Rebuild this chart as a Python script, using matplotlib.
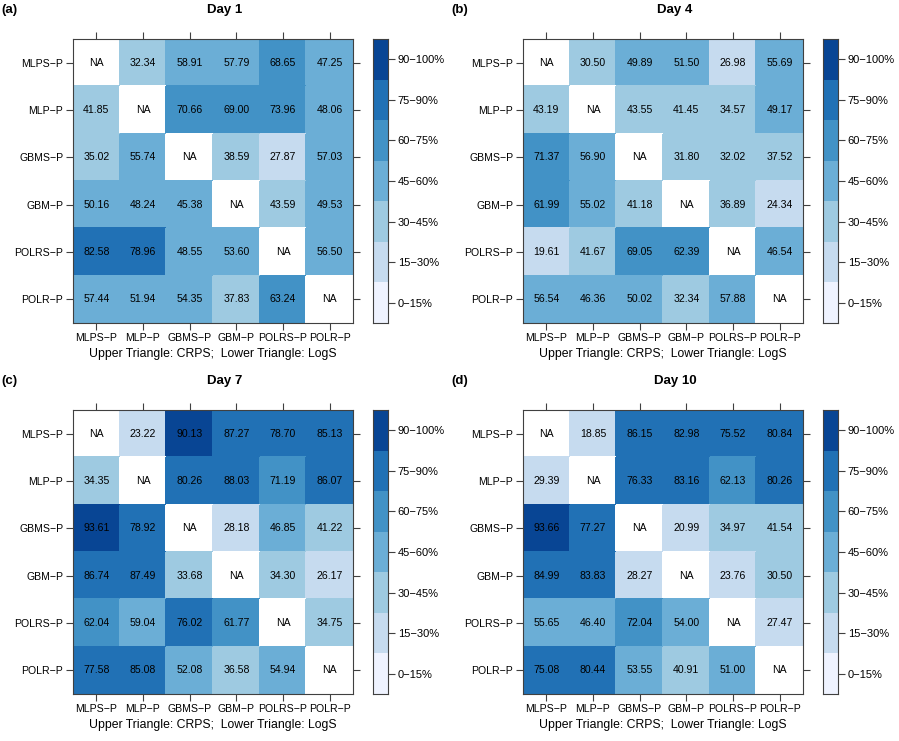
import numpy as np
import matplotlib
matplotlib.use("Agg")
import matplotlib.pyplot as plt
from matplotlib.colors import ListedColormap, BoundaryNorm

plt.rcParams['font.family'] = ['Liberation Sans', 'DejaVu Sans']

models = ["MLPS−P", "MLP−P", "GBMS−P", "GBM−P", "POLRS−P", "POLR−P"]
NA = np.nan

day1 = [[NA, 32.34, 58.91, 57.79, 68.65, 47.25],
        [41.85, NA, 70.66, 69.00, 73.96, 48.06],
        [35.02, 55.74, NA, 38.59, 27.87, 57.03],
        [50.16, 48.24, 45.38, NA, 43.59, 49.53],
        [82.58, 78.96, 48.55, 53.60, NA, 56.50],
        [57.44, 51.94, 54.35, 37.83, 63.24, NA]]

day4 = [[NA, 30.50, 49.89, 51.50, 26.98, 55.69],
        [43.19, NA, 43.55, 41.45, 34.57, 49.17],
        [71.37, 56.90, NA, 31.80, 32.02, 37.52],
        [61.99, 55.02, 41.18, NA, 36.89, 24.34],
        [19.61, 41.67, 69.05, 62.39, NA, 46.54],
        [56.54, 46.36, 50.02, 32.34, 57.88, NA]]

day7 = [[NA, 23.22, 90.13, 87.27, 78.70, 85.13],
        [34.35, NA, 80.26, 88.03, 71.19, 86.07],
        [93.61, 78.92, NA, 28.18, 46.85, 41.22],
        [86.74, 87.49, 33.68, NA, 34.30, 26.17],
        [62.04, 59.04, 76.02, 61.77, NA, 34.75],
        [77.58, 85.08, 52.08, 36.58, 54.94, NA]]

day10 = [[NA, 18.85, 86.15, 82.98, 75.52, 80.84],
         [29.39, NA, 76.33, 83.16, 62.13, 80.26],
         [93.66, 77.27, NA, 20.99, 34.97, 41.54],
         [84.99, 83.83, 28.27, NA, 23.76, 30.50],
         [55.65, 46.40, 72.04, 54.00, NA, 27.47],
         [75.08, 80.44, 53.55, 40.91, 51.00, NA]]

panels = ["(a)", "(b)", "(c)", "(d)"]
titles = ["Day 1", "Day 4", "Day 7", "Day 10"]
data = [day1, day4, day7, day10]
xlabel_text = "Upper Triangle: CRPS;  Lower Triangle: LogS"

bounds = [0, 15, 30, 45, 60, 75, 90, 100]
class_labels = ["0−15%", "15−30%", "30−45%", "45−60%", "60−75%", "75−90%", "90−100%"]
colors = ["#EFF3FF", "#C6DBEF", "#9ECAE1", "#6BAED6", "#4292C6", "#2171B5", "#084594"]

cmap = ListedColormap(colors)
cmap.set_bad("white")
norm = BoundaryNorm(bounds, cmap.N)

W, H = 899, 741
fig = plt.figure(figsize=(W / 100, H / 100), dpi=100)

frame_col = "#404040"
fs = 7.6

def fx(px):
    return px / W

def fy(py):
    return 1 - py / H

offsets = [(0, 0), (450, 0), (0, 371), (450, 371)]

for k in range(4):
    ox, oy = offsets[k]
    M = np.array(data[k], dtype=float)
    # main panel
    l, r, t, b = 73 + ox, 353 + ox, 39 + oy, 323 + oy
    ax = fig.add_axes([fx(l), fy(b), fx(r - l), (b - t) / H])
    ax.pcolormesh(np.arange(7) - 0.5, np.arange(7) - 0.5, np.ma.masked_invalid(M),
                  cmap=cmap, norm=norm, edgecolors="face", linewidth=0.2)
    ax.set_xlim(-0.5, 5.5)
    ax.set_ylim(5.5, -0.5)
    n = len(models)
    for i in range(n):
        for j in range(n):
            v = M[i, j]
            s = "NA" if np.isnan(v) else f"{v:.2f}"
            ax.text(j, i, s, ha="center", va="center", fontsize=fs, color="black")
    ax.set_xticks(range(n))
    ax.set_yticks(range(n))
    ax.set_xticklabels(models, fontsize=fs)
    ax.set_yticklabels(models, fontsize=fs)
    ax.tick_params(direction="out", length=5, width=0.8, color=frame_col,
                   top=True, right=True, labeltop=False, labelright=False, pad=2)
    for sp in ax.spines.values():
        sp.set_color(frame_col)
        sp.set_linewidth(0.8)
    ax.set_xlabel(xlabel_text, fontsize=8.8, labelpad=4)

    # colorbar
    cl, cr = 373 + ox, 388 + ox
    cax = fig.add_axes([fx(cl), fy(b), fx(cr - cl), (b - t) / H])
    lev = np.arange(len(colors)).reshape(-1, 1)
    cax.pcolormesh([0, 1], np.arange(len(colors) + 1), lev, cmap=ListedColormap(colors),
                   vmin=-0.5, vmax=len(colors) - 0.5)
    cax.set_xlim(0, 1)
    cax.set_ylim(0, len(colors))
    cax.set_xticks([])
    cax.set_yticks(np.arange(len(colors)) + 0.5)
    cax.set_yticklabels(class_labels, fontsize=fs + 0.4)
    cax.yaxis.tick_right()
    cax.tick_params(direction="out", length=5, width=0.8, color=frame_col, pad=2)
    for sp in cax.spines.values():
        sp.set_color(frame_col)
        sp.set_linewidth(0.8)

    # titles
    fig.text(fx(225 + ox), fy(10 + oy), titles[k], ha="center", va="center",
             fontsize=9.5, fontweight="bold")
    fig.text(fx(1 + ox), fy(10 + oy), panels[k], ha="left", va="center",
             fontsize=9.5, fontweight="bold")

fig.savefig("out.png", dpi=100)
